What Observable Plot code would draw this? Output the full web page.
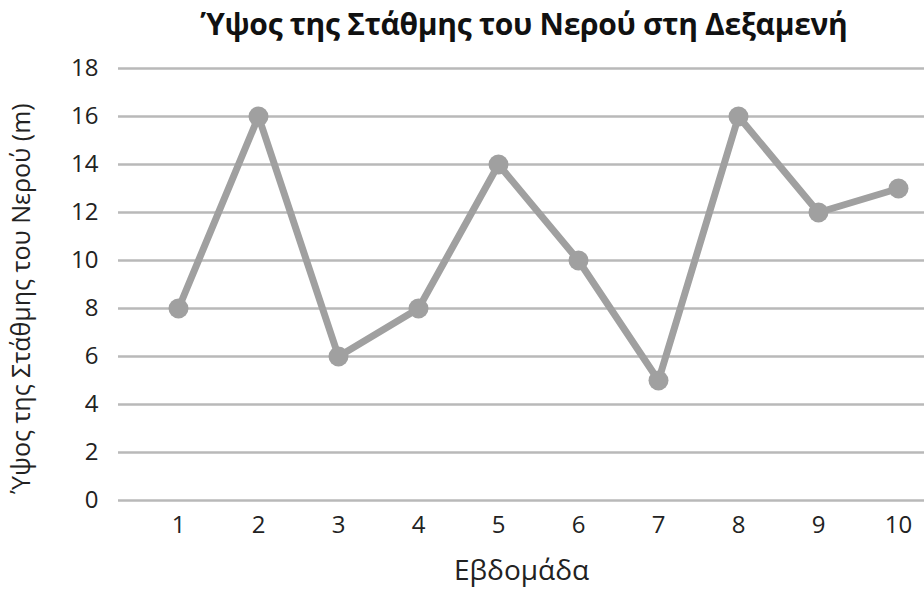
<!DOCTYPE html>
<html><head><meta charset="utf-8">
<script src="https://cdn.jsdelivr.net/npm/d3@7"></script>
<script src="https://cdn.jsdelivr.net/npm/@observablehq/plot@0.6"></script>
<style>
body{margin:0;background:#fff;font-family:"Open Sans",sans-serif;}
#title{height:50px;box-sizing:border-box;padding-top:4px;padding-left:124px;text-align:center;font-weight:700;font-size:30px;line-height:40px;color:#111;letter-spacing:-0.3px;white-space:nowrap;}
svg{display:block;}
</style></head><body>
<div id="title">Ύψος της Στάθμης του Νερού στη Δεξαμενή</div>
<div id="chart"></div>
<script>
const weeks = [1, 2, 3, 4, 5, 6, 7, 8, 9, 10];
const levels = [8, 16, 6, 8, 14, 10, 5, 16, 12, 13];
const yTicks = [0, 2, 4, 6, 8, 10, 12, 14, 16, 18];
const xLabel = "Εβδομάδα";
const yLabel = "Ύψος της Στάθμης του Νερού (m)";

const data = weeks.map((w, i) => ({week: w, level: levels[i]}));

const chart = Plot.plot({
  width: 924, height: 547,
  marginLeft: 118, marginRight: 0, marginTop: 18, marginBottom: 97,
  style: {fontFamily: '"Open Sans", sans-serif', fontSize: "24px", color: "#222", background: "#fff"},
  x: {domain: [0.25, 10.325]},
  y: {domain: [0, 18]},
  marks: [
    Plot.gridY(yTicks, {stroke: "#b9b9b9", strokeWidth: 2.5, strokeOpacity: 1}),
    Plot.line(data, {x: "week", y: "level", stroke: "#a0a0a0", strokeWidth: 7}),
    Plot.dot(data, {x: "week", y: "level", r: 10, fill: "#a0a0a0"}),
    Plot.axisY(yTicks, {tickSize: 0, tickPadding: 20, fontSize: 24, label: null, fill: "#222"}),
    Plot.axisX(weeks, {tickSize: 0, tickPadding: 15, fontSize: 24, label: null, fill: "#222"}),
    Plot.text([xLabel], {frameAnchor: "bottom", dy: 79, fontSize: 28, fill: "#222"}),
    Plot.text([yLabel], {frameAnchor: "left", textAnchor: "middle", rotate: -90, dx: -97, dy: 14, fontSize: 25, fill: "#222"})
  ]
});
document.getElementById("chart").appendChild(chart);
</script>
</body></html>
